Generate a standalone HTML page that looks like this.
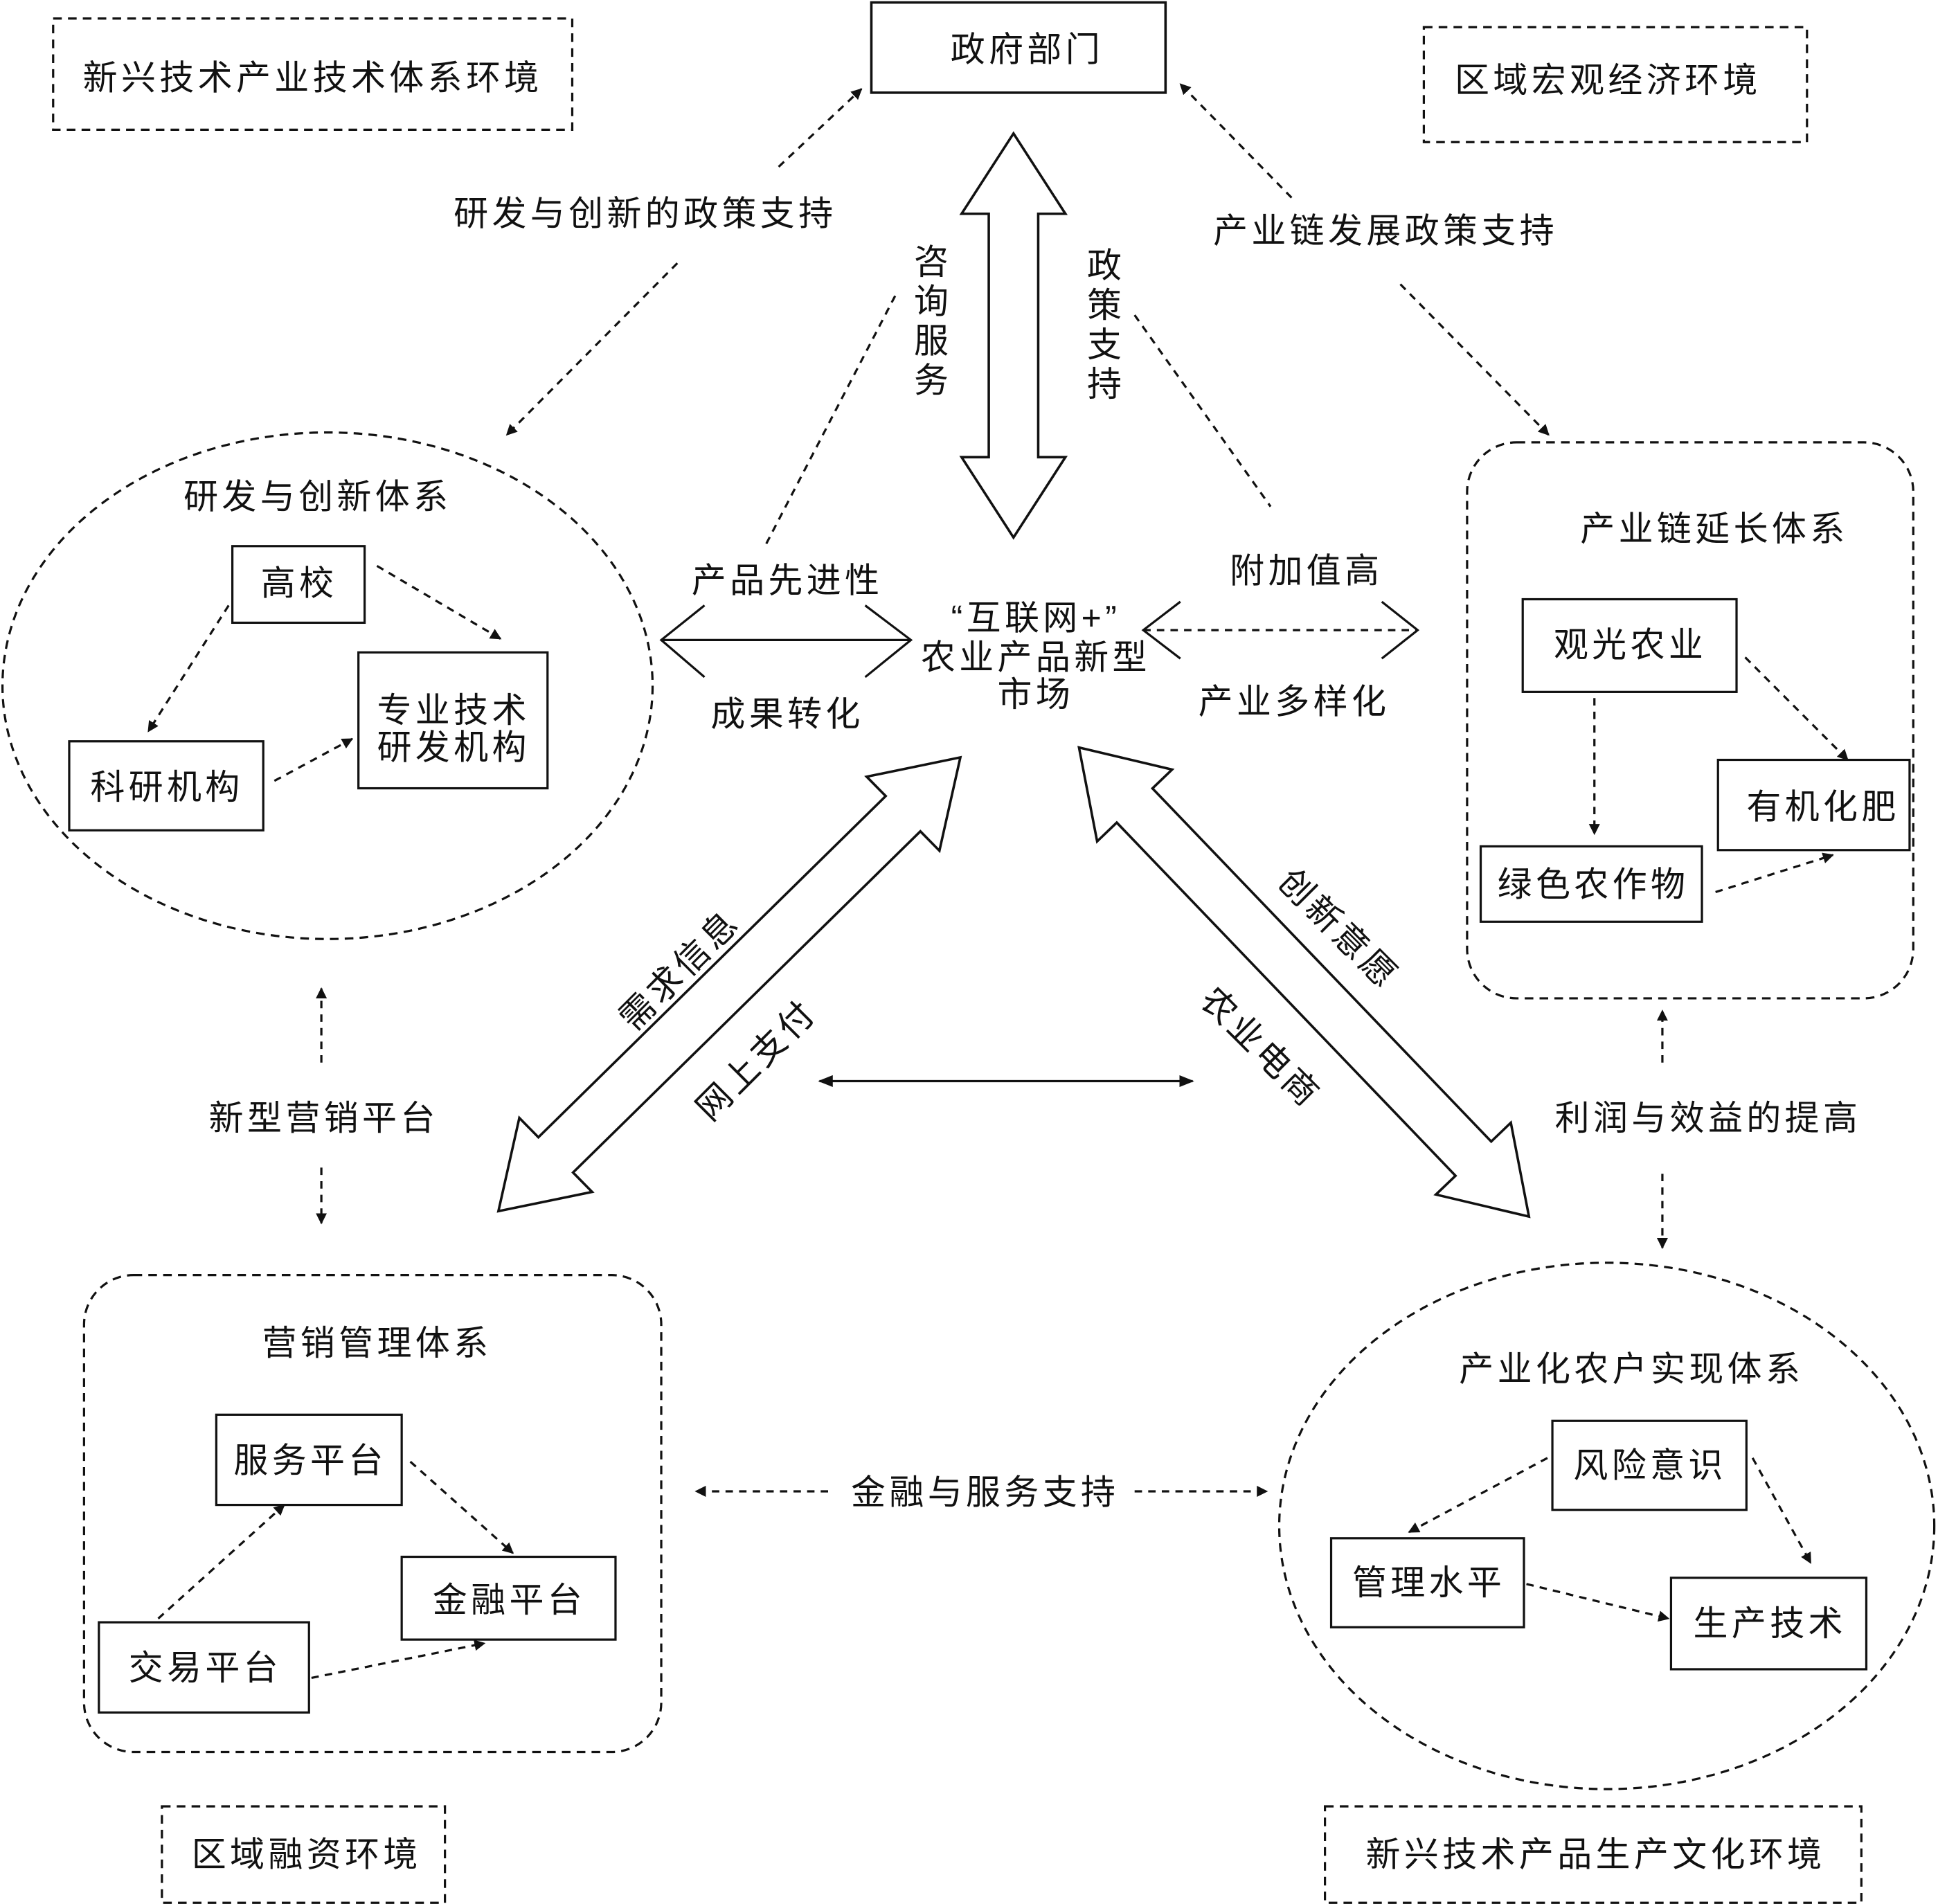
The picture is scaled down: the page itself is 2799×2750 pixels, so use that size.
<!DOCTYPE html>
<html><head><meta charset="utf-8"><style>
html,body{margin:0;padding:0;background:#fff}
svg{display:block}
text{font-family:"Liberation Sans","Noto Sans CJK SC",sans-serif;font-size:28px;fill:#111;text-anchor:middle;dominant-baseline:central;letter-spacing:3px}
</style></head><body>
<svg width="2799" height="2750" viewBox="0 0 1568 1541" preserveAspectRatio="none" xmlns="http://www.w3.org/2000/svg">
<defs>
<marker id="a" viewBox="0 0 10 10" refX="9" refY="5" markerWidth="9" markerHeight="9" markerUnits="userSpaceOnUse" orient="auto"><path d="M0,0 L10,5 L0,10 z" fill="#111"/></marker>
<marker id="b" viewBox="0 0 10 10" refX="9" refY="5" markerWidth="12" markerHeight="12" markerUnits="userSpaceOnUse" orient="auto-start-reverse"><path d="M0,1 L10,5 L0,9 z" fill="#111"/></marker>
</defs>
<g fill="none" stroke="#111" stroke-width="1.8">
<rect x="43" y="15" width="420" height="90" stroke-dasharray="7,5"/>
<rect x="1152" y="22" width="310" height="93" stroke-dasharray="7,5"/>
<rect x="131" y="1462" width="229" height="78" stroke-dasharray="7,5"/>
<rect x="1072" y="1462" width="434" height="78" stroke-dasharray="7,5"/>
<rect x="705" y="2" width="238" height="73" stroke-width="2"/>
<g stroke-dasharray="6,5">
<line x1="630" y1="135" x2="697" y2="72" marker-end="url(#a)"/>
<line x1="548" y1="213" x2="410" y2="352" marker-end="url(#a)"/>
<line x1="1045" y1="160" x2="955" y2="68" marker-end="url(#a)"/>
<line x1="1133" y1="230" x2="1253" y2="352" marker-end="url(#a)"/>
<line x1="620" y1="440" x2="725" y2="238"/>
<line x1="918" y1="255" x2="1028" y2="410"/>
</g>
<g stroke-width="2" fill="#fff">
<polygon transform="translate(820,108)" points="0,0 42,65 20,65 20,262 42,262 0,327 -42,262 -20,262 -20,65 -42,65"/>
<polygon transform="translate(777,613) rotate(45.5)" points="0,0 42,65 20,65 20,459 42,459 0,524 -42,459 -20,459 -20,65 -42,65"/>
<polygon transform="translate(873,605) rotate(-43.8)" points="0,0 42,65 20,65 20,461 42,461 0,526 -42,461 -20,461 -20,65 -42,65"/>
</g>
<ellipse cx="265" cy="555" rx="263" ry="205" stroke-dasharray="7,5"/>
<rect x="188" y="442" width="107" height="62"/>
<rect x="290" y="528" width="153" height="110"/>
<rect x="56" y="600" width="157" height="72"/>
<g stroke-dasharray="6,5">
<line x1="305" y1="458" x2="405" y2="517" marker-end="url(#a)"/>
<line x1="185" y1="490" x2="120" y2="592" marker-end="url(#a)"/>
<line x1="222" y1="632" x2="285" y2="598" marker-end="url(#a)"/>
</g>
<line x1="535" y1="518" x2="737" y2="518"/>
<polyline points="570,490 535,518 570,548"/>
<polyline points="700,490 737,518 700,548"/>
<line x1="925" y1="510" x2="1147" y2="510" stroke-dasharray="6,5"/>
<polyline points="955,487 925,510 955,533"/>
<polyline points="1118,487 1147,510 1118,533"/>
<line x1="663" y1="875" x2="965" y2="875" marker-start="url(#b)" marker-end="url(#b)"/>
<rect x="1187" y="358" width="361" height="450" rx="40" stroke-dasharray="7,5"/>
<rect x="1232" y="485" width="173" height="75"/>
<rect x="1390" y="615" width="155" height="73"/>
<rect x="1198" y="685" width="179" height="61"/>
<g stroke-dasharray="6,5">
<line x1="1290" y1="565" x2="1290" y2="675" marker-end="url(#a)"/>
<line x1="1412" y1="532" x2="1495" y2="615" marker-end="url(#a)"/>
<line x1="1388" y1="722" x2="1483" y2="692" marker-end="url(#a)"/>
<line x1="260" y1="860" x2="260" y2="800" marker-end="url(#a)"/>
<line x1="260" y1="945" x2="260" y2="990" marker-end="url(#a)"/>
<line x1="1345" y1="860" x2="1345" y2="818" marker-end="url(#a)"/>
<line x1="1345" y1="950" x2="1345" y2="1010" marker-end="url(#a)"/>
<line x1="670" y1="1207" x2="563" y2="1207" marker-end="url(#a)"/>
<line x1="918" y1="1207" x2="1025" y2="1207" marker-end="url(#a)"/>
</g>
<rect x="68" y="1032" width="467" height="386" rx="40" stroke-dasharray="7,5"/>
<rect x="175" y="1145" width="150" height="73"/>
<rect x="325" y="1260" width="173" height="67"/>
<rect x="80" y="1313" width="170" height="73"/>
<g stroke-dasharray="6,5">
<line x1="128" y1="1310" x2="230" y2="1218" marker-end="url(#a)"/>
<line x1="332" y1="1183" x2="415" y2="1257" marker-end="url(#a)"/>
<line x1="252" y1="1358" x2="392" y2="1330" marker-end="url(#a)"/>
</g>
<ellipse cx="1300" cy="1235" rx="265" ry="213" stroke-dasharray="7,5"/>
<rect x="1256" y="1150" width="157" height="72"/>
<rect x="1077" y="1245" width="156" height="72"/>
<rect x="1352" y="1277" width="158" height="74"/>
<g stroke-dasharray="6,5">
<line x1="1252" y1="1180" x2="1140" y2="1240" marker-end="url(#a)"/>
<line x1="1418" y1="1180" x2="1465" y2="1265" marker-end="url(#a)"/>
<line x1="1235" y1="1282" x2="1350" y2="1310" marker-end="url(#a)"/>
</g>
</g>
<text x="253" y="63">新兴技术产业技术体系环境</text>
<text x="831" y="40">政府部门</text>
<text x="1301" y="65">区域宏观经济环境</text>
<text x="522" y="173">研发与创新的政策支持</text>
<text x="1121" y="187">产业链发展政策支持</text>
<g style="letter-spacing:0">
<text x="755" y="212">咨</text><text x="755" y="244">询</text><text x="755" y="276">服</text><text x="755" y="308">务</text>
<text x="895" y="215">政</text><text x="895" y="247">策</text><text x="895" y="279">支</text><text x="895" y="311">持</text>
</g>
<text x="257" y="402">研发与创新体系</text>
<text x="242" y="472">高校</text>
<text x="367" y="575">专业技术</text>
<text x="367" y="605">研发机构</text>
<text x="135" y="637">科研机构</text>
<text x="637" y="470">产品先进性</text>
<text x="637" y="578">成果转化</text>
<text x="838" y="500">“互联网+”</text>
<text x="838" y="532">农业产品新型</text>
<text x="838" y="562">市场</text>
<text x="1057" y="462">附加值高</text>
<text x="1047" y="568">产业多样化</text>
<text x="1387" y="428">产业链延长体系</text>
<text x="1319" y="522">观光农业</text>
<text x="1475" y="653">有机化肥</text>
<text x="1289" y="716">绿色农作物</text>
<text x="550" y="785" transform="rotate(-45 550 785)">需求信息</text>
<text x="612" y="858" transform="rotate(-45 612 858)">网上支付</text>
<text x="1083" y="752" transform="rotate(45 1083 752)">创新意愿</text>
<text x="1020" y="848" transform="rotate(45 1020 848)">农业电商</text>
<text x="262" y="905">新型营销平台</text>
<text x="1382" y="905">利润与效益的提高</text>
<text x="305" y="1087">营销管理体系</text>
<text x="251" y="1182">服务平台</text>
<text x="412" y="1295">金融平台</text>
<text x="166" y="1350">交易平台</text>
<text x="797" y="1208">金融与服务支持</text>
<text x="1320" y="1108">产业化农户实现体系</text>
<text x="1335" y="1186">风险意识</text>
<text x="1156" y="1281">管理水平</text>
<text x="1432" y="1314">生产技术</text>
<text x="248" y="1501">区域融资环境</text>
<text x="1291" y="1501">新兴技术产品生产文化环境</text>
</svg>
</body></html>
